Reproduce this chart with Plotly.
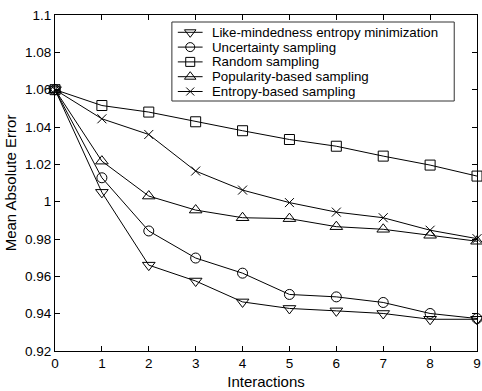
import plotly.graph_objects as go

x = [0, 1, 2, 3, 4, 5, 6, 7, 8, 9]
like_mindedness = [1.060, 1.005, 0.966, 0.9575, 0.9463, 0.9428, 0.9415, 0.9401, 0.937, 0.937]
uncertainty = [1.060, 1.0128, 0.9843, 0.9698, 0.9617, 0.9503, 0.949, 0.946, 0.9401, 0.9374]
random_s = [1.060, 1.0515, 1.048, 1.0428, 1.038, 1.0333, 1.0297, 1.0244, 1.0196, 1.0137]
popularity = [1.060, 1.0217, 1.003, 0.9955, 0.9914, 0.9909, 0.9866, 0.9852, 0.982, 0.9788]
entropy = [1.060, 1.0444, 1.036, 1.0164, 1.0062, 0.9995, 0.9944, 0.9914, 0.9847, 0.9802]

names = ["Like-mindedness entropy minimization", "Uncertainty sampling", "Random sampling",
         "Popularity-based sampling", "Entropy-based sampling"]
values = [like_mindedness, uncertainty, random_s, popularity, entropy]
symbols = ["triangle-down-open", "circle-open", "square-open", "triangle-up-open", "x-thin-open"]
sizes = [11, 10, 10, 11, 9]

font = "Liberation Sans, Arial, sans-serif"
W, H = 482, 391
ML, MR, MT, MB = 55, 1, 15, 40
PW, PH = W - ML - MR, H - MT - MB

fig = go.Figure()
for name, ys, sym, sz in zip(names, values, symbols, sizes):
    fig.add_trace(go.Scatter(
        x=x, y=ys, name=name, mode="lines+markers",
        line=dict(color="black", width=1),
        marker=dict(symbol=sym, size=sz, color="black",
                    line=dict(color="black", width=1)),
        cliponaxis=False, showlegend=False,
    ))

# manual MATLAB-style legend drawn on a pixel-scaled overlay axis
leg_left, leg_right, leg_top, leg_bottom = 173 - ML, 458 - ML, 22 - MT, 101 - MT
row_y0, row_dy = 32.3 - MT, 14.8
line_x0, line_x1, text_x = 179 - ML, 204 - ML, 211 - ML
fig.add_shape(type="rect", xref="x2", yref="y2", x0=leg_left, x1=leg_right,
              y0=leg_top, y1=leg_bottom, line=dict(color="#333", width=1),
              fillcolor="white", layer="below")
for i, (name, sym, sz) in enumerate(zip(names, symbols, sizes)):
    yy = row_y0 + i * row_dy
    fig.add_trace(go.Scatter(
        x=[line_x0, (line_x0 + line_x1) / 2, line_x1], y=[yy, yy, yy],
        xaxis="x2", yaxis="y2", mode="lines", showlegend=False,
        line=dict(color="black", width=1), hoverinfo="skip", cliponaxis=False,
    ))
    fig.add_trace(go.Scatter(
        x=[(line_x0 + line_x1) / 2], y=[yy],
        xaxis="x2", yaxis="y2", mode="markers", showlegend=False,
        marker=dict(symbol=sym, size=sz - 1, color="black", line=dict(color="black", width=1)),
        hoverinfo="skip", cliponaxis=False,
    ))
    fig.add_annotation(x=text_x, y=yy, xref="x2", yref="y2", text=name,
                       showarrow=False, xanchor="left", yanchor="middle",
                       font=dict(size=13.3, family=font, color="black"))

fig.update_layout(
    width=W, height=H,
    margin=dict(l=ML, r=MR, t=MT, b=MB),
    paper_bgcolor="white", plot_bgcolor="white",
    font=dict(family=font, size=13.5, color="black"),
    showlegend=False,
    xaxis=dict(
        range=[0, 9], tickvals=x, ticktext=[str(v) for v in x],
        ticks="inside", ticklen=5, tickcolor="black",
        showline=True, linecolor="black", linewidth=1, mirror="ticks",
        showgrid=False, zeroline=False, ticklabeloverflow="allow",
        title=dict(text="Interactions", font=dict(size=15), standoff=6),
    ),
    yaxis=dict(
        range=[0.92, 1.1], tickvals=[0.92, 0.94, 0.96, 0.98, 1.0, 1.02, 1.04, 1.06, 1.08, 1.1],
        ticktext=["0.92", "0.94", "0.96", "0.98", "1", "1.02", "1.04", "1.06", "1.08", "1.1"],
        ticks="inside", ticklen=5, tickcolor="black",
        showline=True, linecolor="black", linewidth=1, mirror="ticks",
        showgrid=False, zeroline=False,
        title=dict(text="Mean Absolute Error", font=dict(size=15), standoff=4),
    ),
    xaxis2=dict(overlaying="x", range=[0, PW], visible=False, anchor="y2"),
    yaxis2=dict(overlaying="y", range=[PH, 0], visible=False, anchor="x2"),
)

fig.write_html("out.html")
